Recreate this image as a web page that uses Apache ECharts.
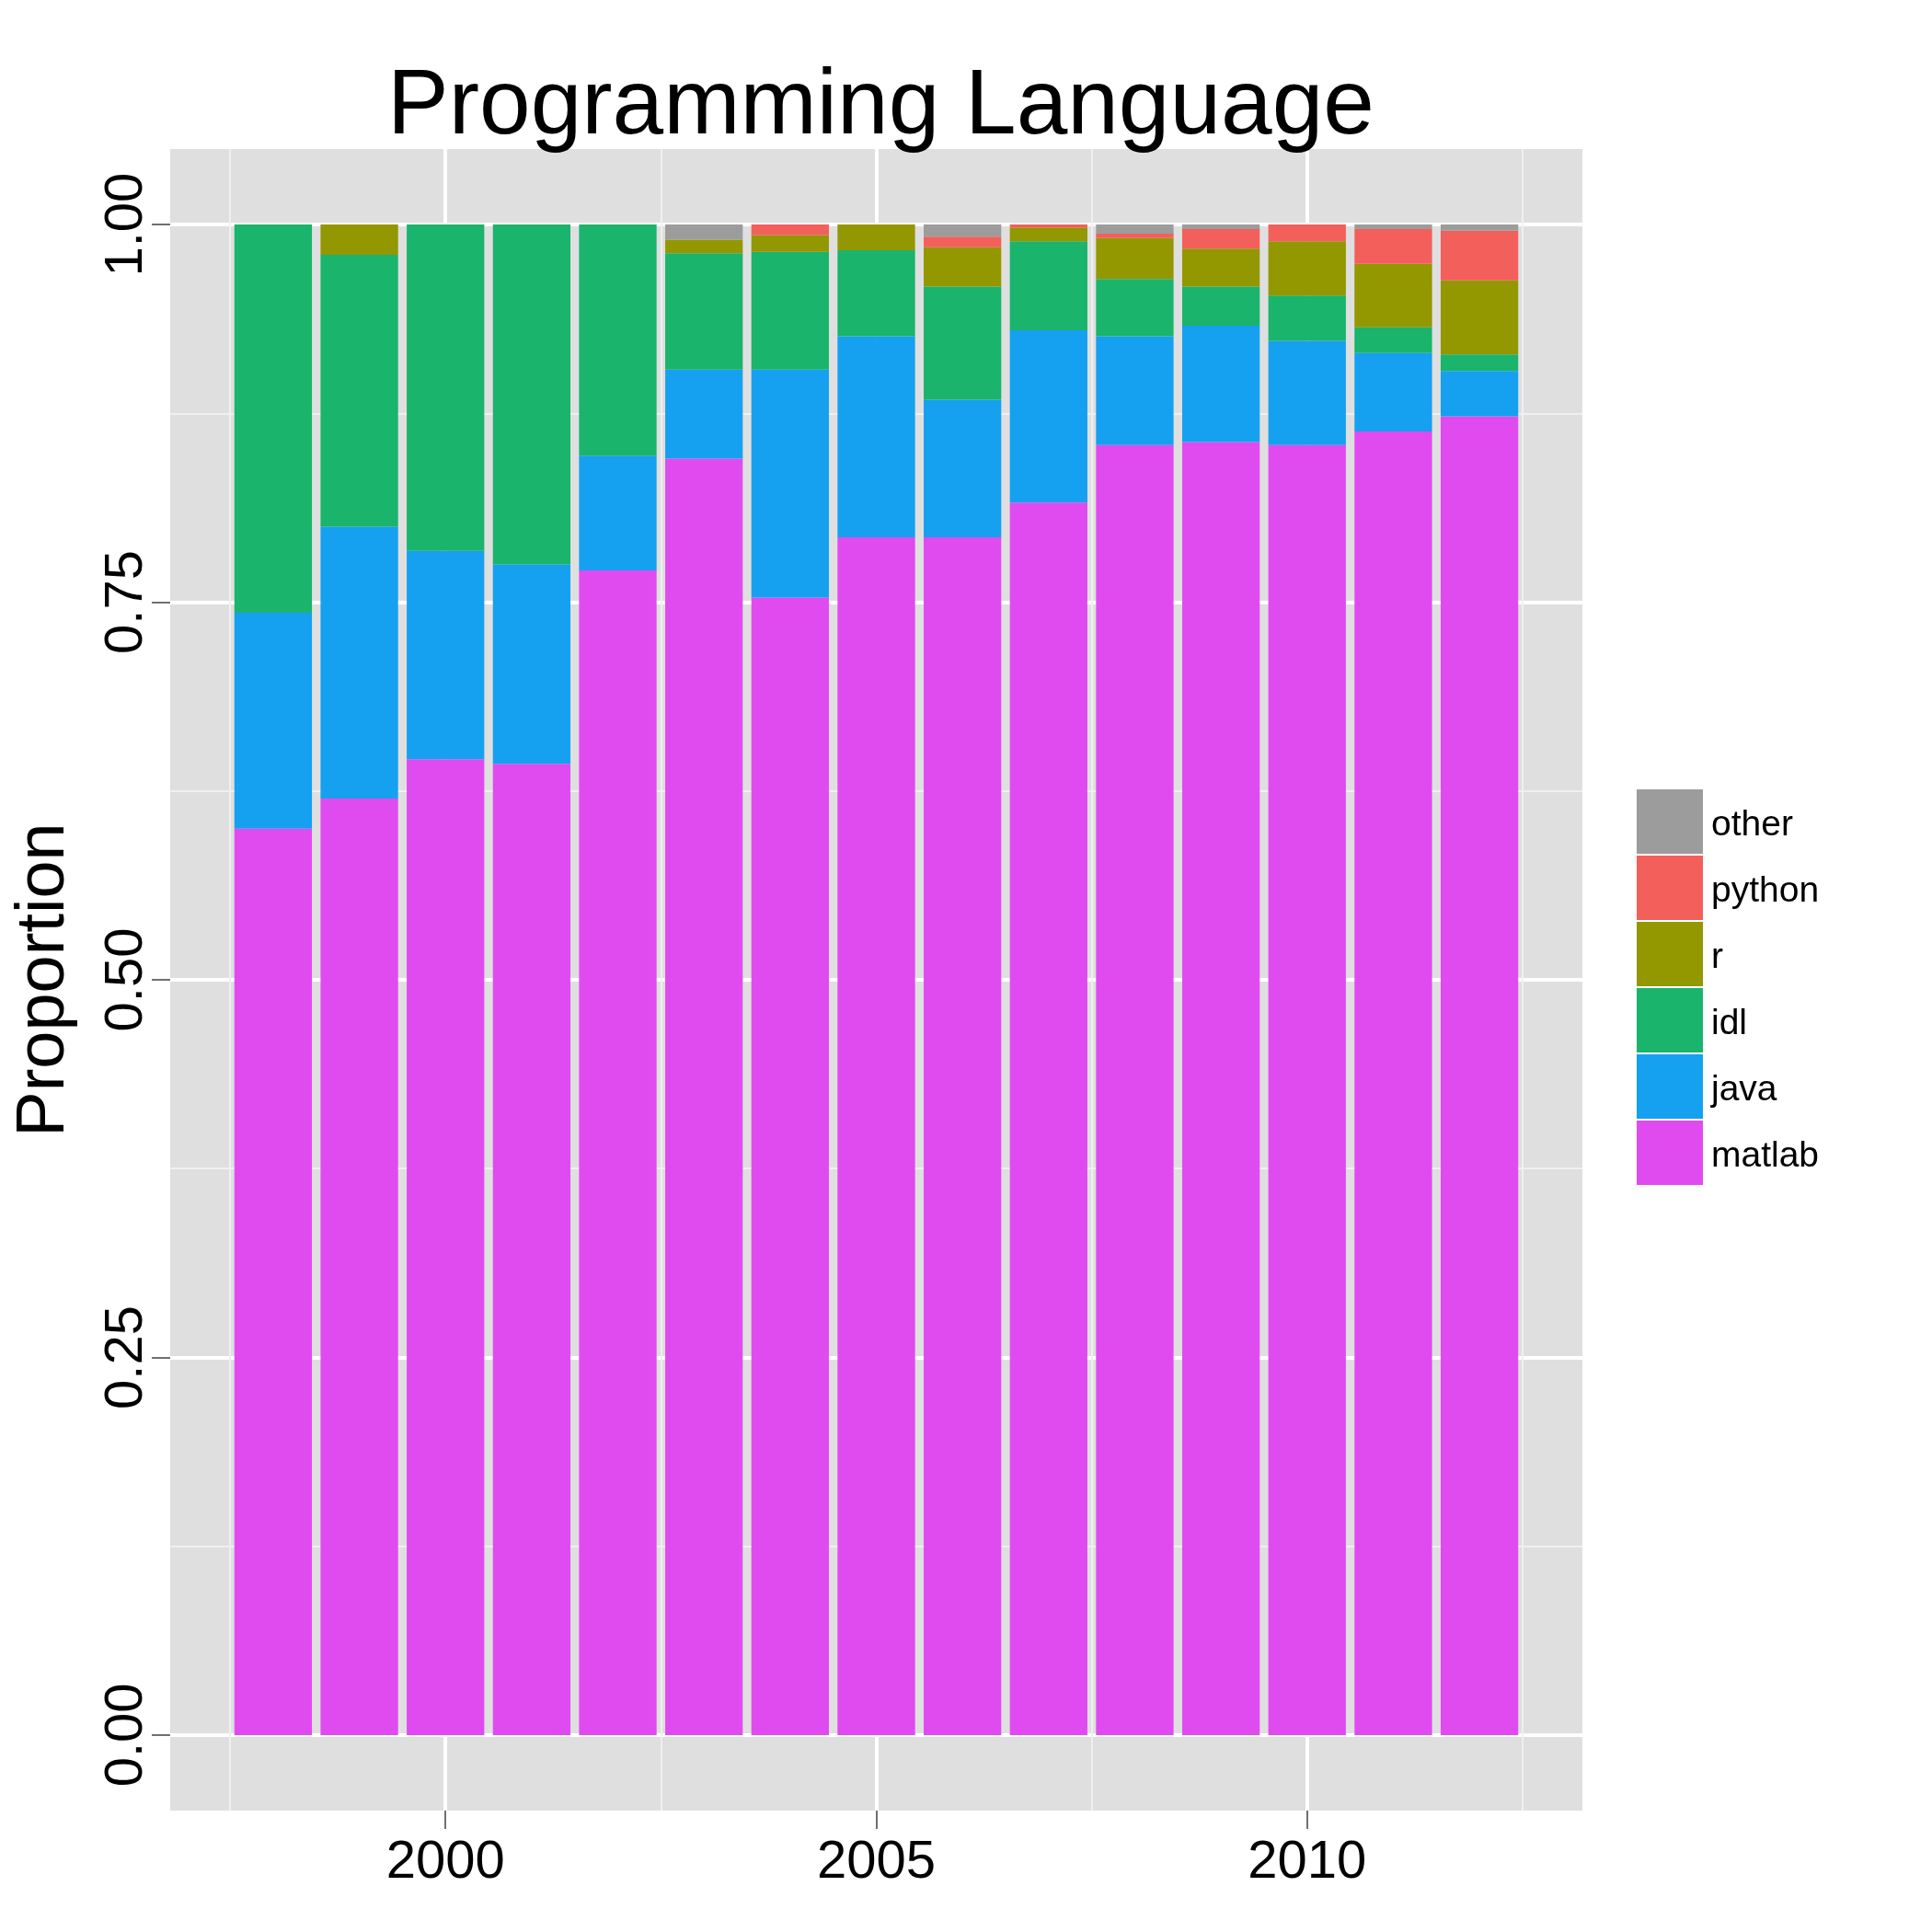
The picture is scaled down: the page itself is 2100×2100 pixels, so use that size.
<!DOCTYPE html>
<html>
<head>
<meta charset="utf-8">
<script src="https://cdn.jsdelivr.net/npm/echarts@6/dist/echarts.min.js"></script>
<style>
  html, body { margin: 0; padding: 0; background: #ffffff; }
  #chart { width: 2100px; height: 2100px; }
</style>
</head>
<body>
<div id="chart"></div>
<script>
// ---- data ----
const years = [1998, 1999, 2000, 2001, 2002, 2003, 2004, 2005, 2006, 2007, 2008, 2009, 2010, 2011, 2012];
// stacked bottom -> top
const matlab = [0.600, 0.620, 0.646, 0.643, 0.771, 0.845, 0.753, 0.793, 0.793, 0.816, 0.854, 0.856, 0.854, 0.863, 0.873];
const java   = [0.143, 0.180, 0.138, 0.132, 0.076, 0.059, 0.151, 0.133, 0.091, 0.114, 0.072, 0.077, 0.069, 0.052, 0.030];
const idl    = [0.257, 0.180, 0.216, 0.225, 0.153, 0.077, 0.078, 0.057, 0.075, 0.059, 0.038, 0.026, 0.030, 0.017, 0.011];
const r      = [0.000, 0.020, 0.000, 0.000, 0.000, 0.009, 0.011, 0.017, 0.026, 0.009, 0.027, 0.025, 0.036, 0.042, 0.049];
const python = [0.000, 0.000, 0.000, 0.000, 0.000, 0.000, 0.007, 0.000, 0.007, 0.002, 0.003, 0.013, 0.011, 0.023, 0.033];
const other  = [0.000, 0.000, 0.000, 0.000, 0.000, 0.010, 0.000, 0.000, 0.008, 0.000, 0.006, 0.003, 0.000, 0.003, 0.004];

const seriesNames = ['matlab', 'java', 'idl', 'r', 'python', 'other'];
const seriesValues = [matlab, java, idl, r, python, other];
const legendOrder = ['other', 'python', 'r', 'idl', 'java', 'matlab'];
const xTickValues = [2000, 2005, 2010];
const xMinorValues = [1997.5, 2002.5, 2007.5, 2012.5];
const yTickValues = [0, 0.25, 0.5, 0.75, 1.0];
const yMinorValues = [0.125, 0.375, 0.625, 0.875];

// ---- styling ----
const colors = {
  matlab: '#E04BF0',
  java: '#16A0F0',
  idl: '#1AB46C',
  r: '#939700',
  python: '#F35F5B',
  other: '#9C9C9C'
};
const FONT = 'Liberation Sans, Arial, Helvetica, sans-serif';
const X_MIN = 1996.805, X_MAX = 2013.195;
const Y_MIN = -0.05, Y_MAX = 1.05;
const GRID = { left: 185, top: 162, width: 1535, height: 1806 };
const pxPerYear = GRID.width / (X_MAX - X_MIN);

const chart = echarts.init(document.getElementById('chart'), null, { renderer: 'canvas' });

// data items are [share, year] so that the share (y) dimension is the stacked one
const series = seriesNames.map((name, i) => ({
  name: name,
  type: 'bar',
  stack: 'total',
  xAxisIndex: 0,
  yAxisIndex: 0,
  barWidth: 0.9 * pxPerYear,
  encode: { x: 1, y: 0 },
  itemStyle: { color: colors[name] },
  emphasis: { disabled: true },
  data: years.map((y, k) => [seriesValues[i][k], y])
}));

const option = {
  backgroundColor: '#ffffff',
  animation: false,
  title: {
    text: 'Programming Language',
    left: GRID.left + GRID.width / 2,
    textAlign: 'center',
    top: 62,
    textStyle: { fontFamily: FONT, fontSize: 100, fontWeight: 'normal', color: '#000000' }
  },
  legend: {
    data: legendOrder,
    orient: 'vertical',
    left: 1779,
    top: 858,
    padding: 0,
    itemWidth: 72,
    itemHeight: 70,
    itemGap: 2,
    icon: 'rect',
    selectedMode: false,
    formatter: '{t|{name}}',
    textStyle: {
      fontFamily: FONT, fontSize: 39, color: '#000000',
      rich: { t: { fontFamily: FONT, fontSize: 39, color: '#000000', padding: [9, 0, 0, 4] } }
    }
  },
  grid: Object.assign({ outerBoundsMode: 'none', containLabel: false,
    show: true, backgroundColor: '#DFDFDF', borderWidth: 0 }, GRID),
  xAxis: [
    {
      type: 'value', min: X_MIN, max: X_MAX,
      axisLine: { show: false, onZero: false },
      axisTick: { show: true, inside: false, length: 20, customValues: xTickValues,
        lineStyle: { color: '#707070', width: 2 } },
      axisLabel: { show: true, customValues: xTickValues, margin: 28,
        fontFamily: FONT, fontSize: 58, color: '#000000', formatter: v => String(Math.round(v)) },
      splitLine: { show: true, lineStyle: { color: '#ffffff', width: 4 } }
    },
    {
      type: 'value', min: X_MIN, max: X_MAX,
      axisLine: { show: false, onZero: false },
      axisTick: { show: false, customValues: xMinorValues },
      axisLabel: { show: false, customValues: xMinorValues },
      splitLine: { show: true, lineStyle: { color: '#F0F0F0', width: 2 } }
    }
  ],
  yAxis: [
    {
      type: 'value', min: Y_MIN, max: Y_MAX,
      axisLine: { show: false, onZero: false },
      axisTick: { show: true, inside: false, length: 20, customValues: yTickValues,
        lineStyle: { color: '#707070', width: 2 } },
      axisLabel: { show: true, customValues: yTickValues, margin: 18, rotate: 90,
        fontFamily: FONT, fontSize: 58, color: '#000000', formatter: v => v.toFixed(2) },
      splitLine: { show: true, lineStyle: { color: '#ffffff', width: 4 } }
    },
    {
      type: 'value', min: Y_MIN, max: Y_MAX,
      axisLine: { show: false, onZero: false },
      axisTick: { show: false, customValues: yMinorValues },
      axisLabel: { show: false, customValues: yMinorValues },
      splitLine: { show: true, lineStyle: { color: '#F0F0F0', width: 2 } }
    }
  ],
  graphic: [
    {
      type: 'text',
      x: 49, y: GRID.top + GRID.height / 2,
      rotation: Math.PI / 2,
      style: { text: 'Proportion', font: '74px ' + FONT, fill: '#000000',
        textAlign: 'center', textVerticalAlign: 'middle' }
    }
  ],
  series: series
};

chart.setOption(option);
</script>
</body>
</html>
